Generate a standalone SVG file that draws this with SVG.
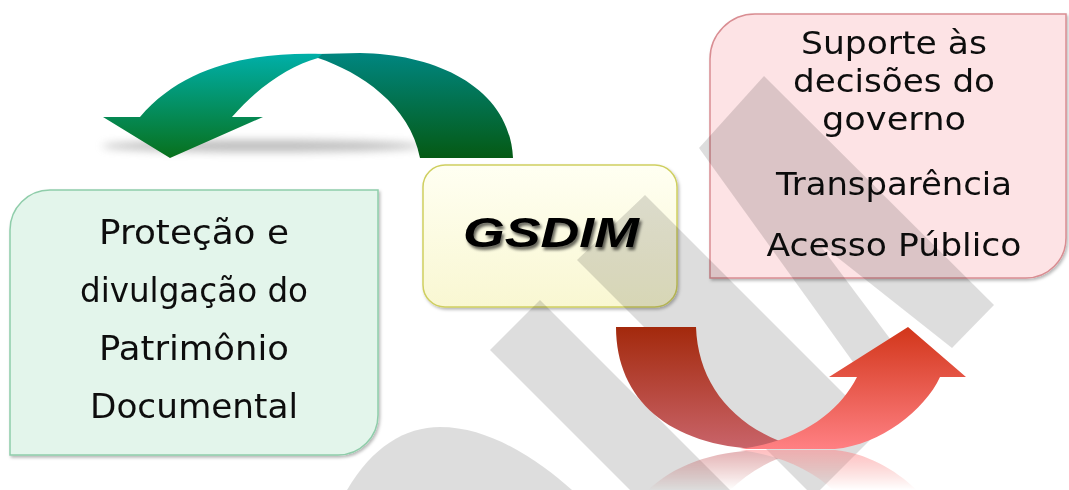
<svg xmlns="http://www.w3.org/2000/svg" width="1069" height="490" viewBox="0 0 1069 490">
<style>
.boxtxt{font-family:"DejaVu Sans","Open Sans",sans-serif;font-size:34px;fill:#111;text-anchor:middle}
.pk{font-size:32.5px}
.gs{font-family:"Liberation Sans",Arial,sans-serif;font-size:42px;font-weight:bold;font-style:italic;text-anchor:middle;fill:#000}
</style>
<defs>
<linearGradient id="gL" gradientUnits="userSpaceOnUse" x1="0" y1="54" x2="0" y2="158"><stop offset="0" stop-color="#00AFA8"/><stop offset="1" stop-color="#08701C"/></linearGradient>
<linearGradient id="gR" gradientUnits="userSpaceOnUse" x1="0" y1="54" x2="0" y2="158"><stop offset="0" stop-color="#00857F"/><stop offset="1" stop-color="#055A14"/></linearGradient>
<linearGradient id="rL" gradientUnits="userSpaceOnUse" x1="0" y1="327" x2="0" y2="449"><stop offset="0" stop-color="#A3290C"/><stop offset="1" stop-color="#C9646A"/></linearGradient>
<linearGradient id="rR" gradientUnits="userSpaceOnUse" x1="0" y1="327" x2="0" y2="449"><stop offset="0" stop-color="#D2361A"/><stop offset="1" stop-color="#FF8083"/></linearGradient>
<linearGradient id="yel" x1="0" y1="0" x2="0" y2="1"><stop offset="0" stop-color="#FFFFF2"/><stop offset="1" stop-color="#F9F7D2"/></linearGradient>
<linearGradient id="fadeG" gradientUnits="userSpaceOnUse" x1="0" y1="450" x2="0" y2="490"><stop offset="0" stop-color="#fff" stop-opacity="0.5"/><stop offset="1" stop-color="#fff" stop-opacity="0"/></linearGradient>
<mask id="fade"><rect x="580" y="449" width="420" height="41" fill="url(#fadeG)"/></mask>
<filter id="blur" x="-20%" y="-200%" width="140%" height="500%"><feGaussianBlur stdDeviation="4"/></filter>
<filter id="tsh" x="-10%" y="-30%" width="120%" height="170%">
<feGaussianBlur in="SourceAlpha" stdDeviation="1.6"/>
<feOffset dx="2" dy="3" result="b"/>
<feFlood flood-color="#000" flood-opacity="0.6"/>
<feComposite in2="b" operator="in" result="s"/>
<feMerge><feMergeNode in="s"/><feMergeNode in="SourceGraphic"/></feMerge>
</filter>
<filter id="sh" x="-5%" y="-5%" width="112%" height="115%"><feDropShadow dx="1.5" dy="2" stdDeviation="1.5" flood-color="#000" flood-opacity="0.28"/></filter>
</defs>
<rect width="1069" height="490" fill="#fff"/>

<g id="node-protecao" filter="url(#sh)">
<path d="M10,455 V230 A40,40 0 0 1 50,190 H378 V415 A40,40 0 0 1 338,455 Z" fill="#E3F5EB" stroke="#8FCDAA" stroke-width="1.5"/>
<text class="boxtxt" x="194" y="244" textLength="190" lengthAdjust="spacingAndGlyphs">Proteção e</text>
<text class="boxtxt" x="194" y="302" textLength="228" lengthAdjust="spacingAndGlyphs">divulgação do</text>
<text class="boxtxt" x="194" y="360" textLength="190" lengthAdjust="spacingAndGlyphs">Patrimônio</text>
<text class="boxtxt" x="194" y="418" textLength="208" lengthAdjust="spacingAndGlyphs">Documental</text>
</g>

<g id="node-gsdim">
<rect x="423" y="165" width="254" height="142" rx="22" fill="url(#yel)" stroke="#CFCF60" stroke-width="1.5" filter="url(#sh)"/>
<text class="gs" x="551" y="247" filter="url(#tsh)" textLength="176" lengthAdjust="spacingAndGlyphs">GSDIM</text>
</g>

<g id="node-suporte" filter="url(#sh)">
<path d="M710,278 V59 A45,45 0 0 1 755,14 H1066 V238 A40,40 0 0 1 1026,278 Z" fill="#FDE3E5" stroke="#D98D92" stroke-width="1.5"/>
<text class="boxtxt pk" x="894" y="54" textLength="186" lengthAdjust="spacingAndGlyphs">Suporte às</text>
<text class="boxtxt pk" x="894" y="92" textLength="202" lengthAdjust="spacingAndGlyphs">decisões do</text>
<text class="boxtxt pk" x="894" y="130" textLength="144" lengthAdjust="spacingAndGlyphs">governo</text>
<text class="boxtxt pk" x="894" y="195" textLength="236" lengthAdjust="spacingAndGlyphs">Transparência</text>
<text class="boxtxt pk" x="894" y="256" textLength="255" lengthAdjust="spacingAndGlyphs">Acesso Público</text>
</g>

<g id="watermark" fill="#000" opacity="0.13">
<path d="M347,490 C372,447 405,427 440,427 C492,427 540,462 572,490 Z"/>
<path d="M490,350 L540,300 L730,490 L630,490 Z"/>
<path d="M577,260 L645,195 L880,430 L820,490 L807,490 Z"/>
<path d="M699,148 L764,76 L994,305 L952,348 Z"/>
<path d="M699,148 L853,362 L891,340 L790,205 Z"/>
</g>

<g id="connectors">
<ellipse cx="262" cy="146" rx="160" ry="6" fill="#888" opacity="0.55" filter="url(#blur)"/>
<g id="arrow-green">
<path d="M318,58 C360,72 410,105 420,158 L513,158 C510,90 440,54 360,53 L318,54 Z" fill="url(#gR)"/>
<path d="M322,54 C255,52 185,64 140,117 L103,117 L170,158 L263,117 L232,117 C260,85 290,66 318,58 Z" fill="url(#gL)"/>
</g>
<g id="arrow-red">
<path d="M616,327 L696,327 C698,385 735,430 800,448 L760,449 C670,446 616,400 616,327 Z" fill="url(#rL)"/>
<path d="M740,449 L835,449 C880,445 925,410 940,377 L966,377 L908,327 L829,377 L857,377 C840,410 805,440 740,449 Z" fill="url(#rR)"/>
</g>
<g id="arrow-red-reflection" mask="url(#fade)">
<g transform="translate(0,899) scale(1,-1)">
<path d="M616,327 L696,327 C698,385 735,430 800,448 L760,449 C670,446 616,400 616,327 Z" fill="url(#rL)"/>
<path d="M740,449 L835,449 C880,445 925,410 940,377 L966,377 L908,327 L829,377 L857,377 C840,410 805,440 740,449 Z" fill="url(#rR)"/>
</g>
</g>
</g>
</svg>
